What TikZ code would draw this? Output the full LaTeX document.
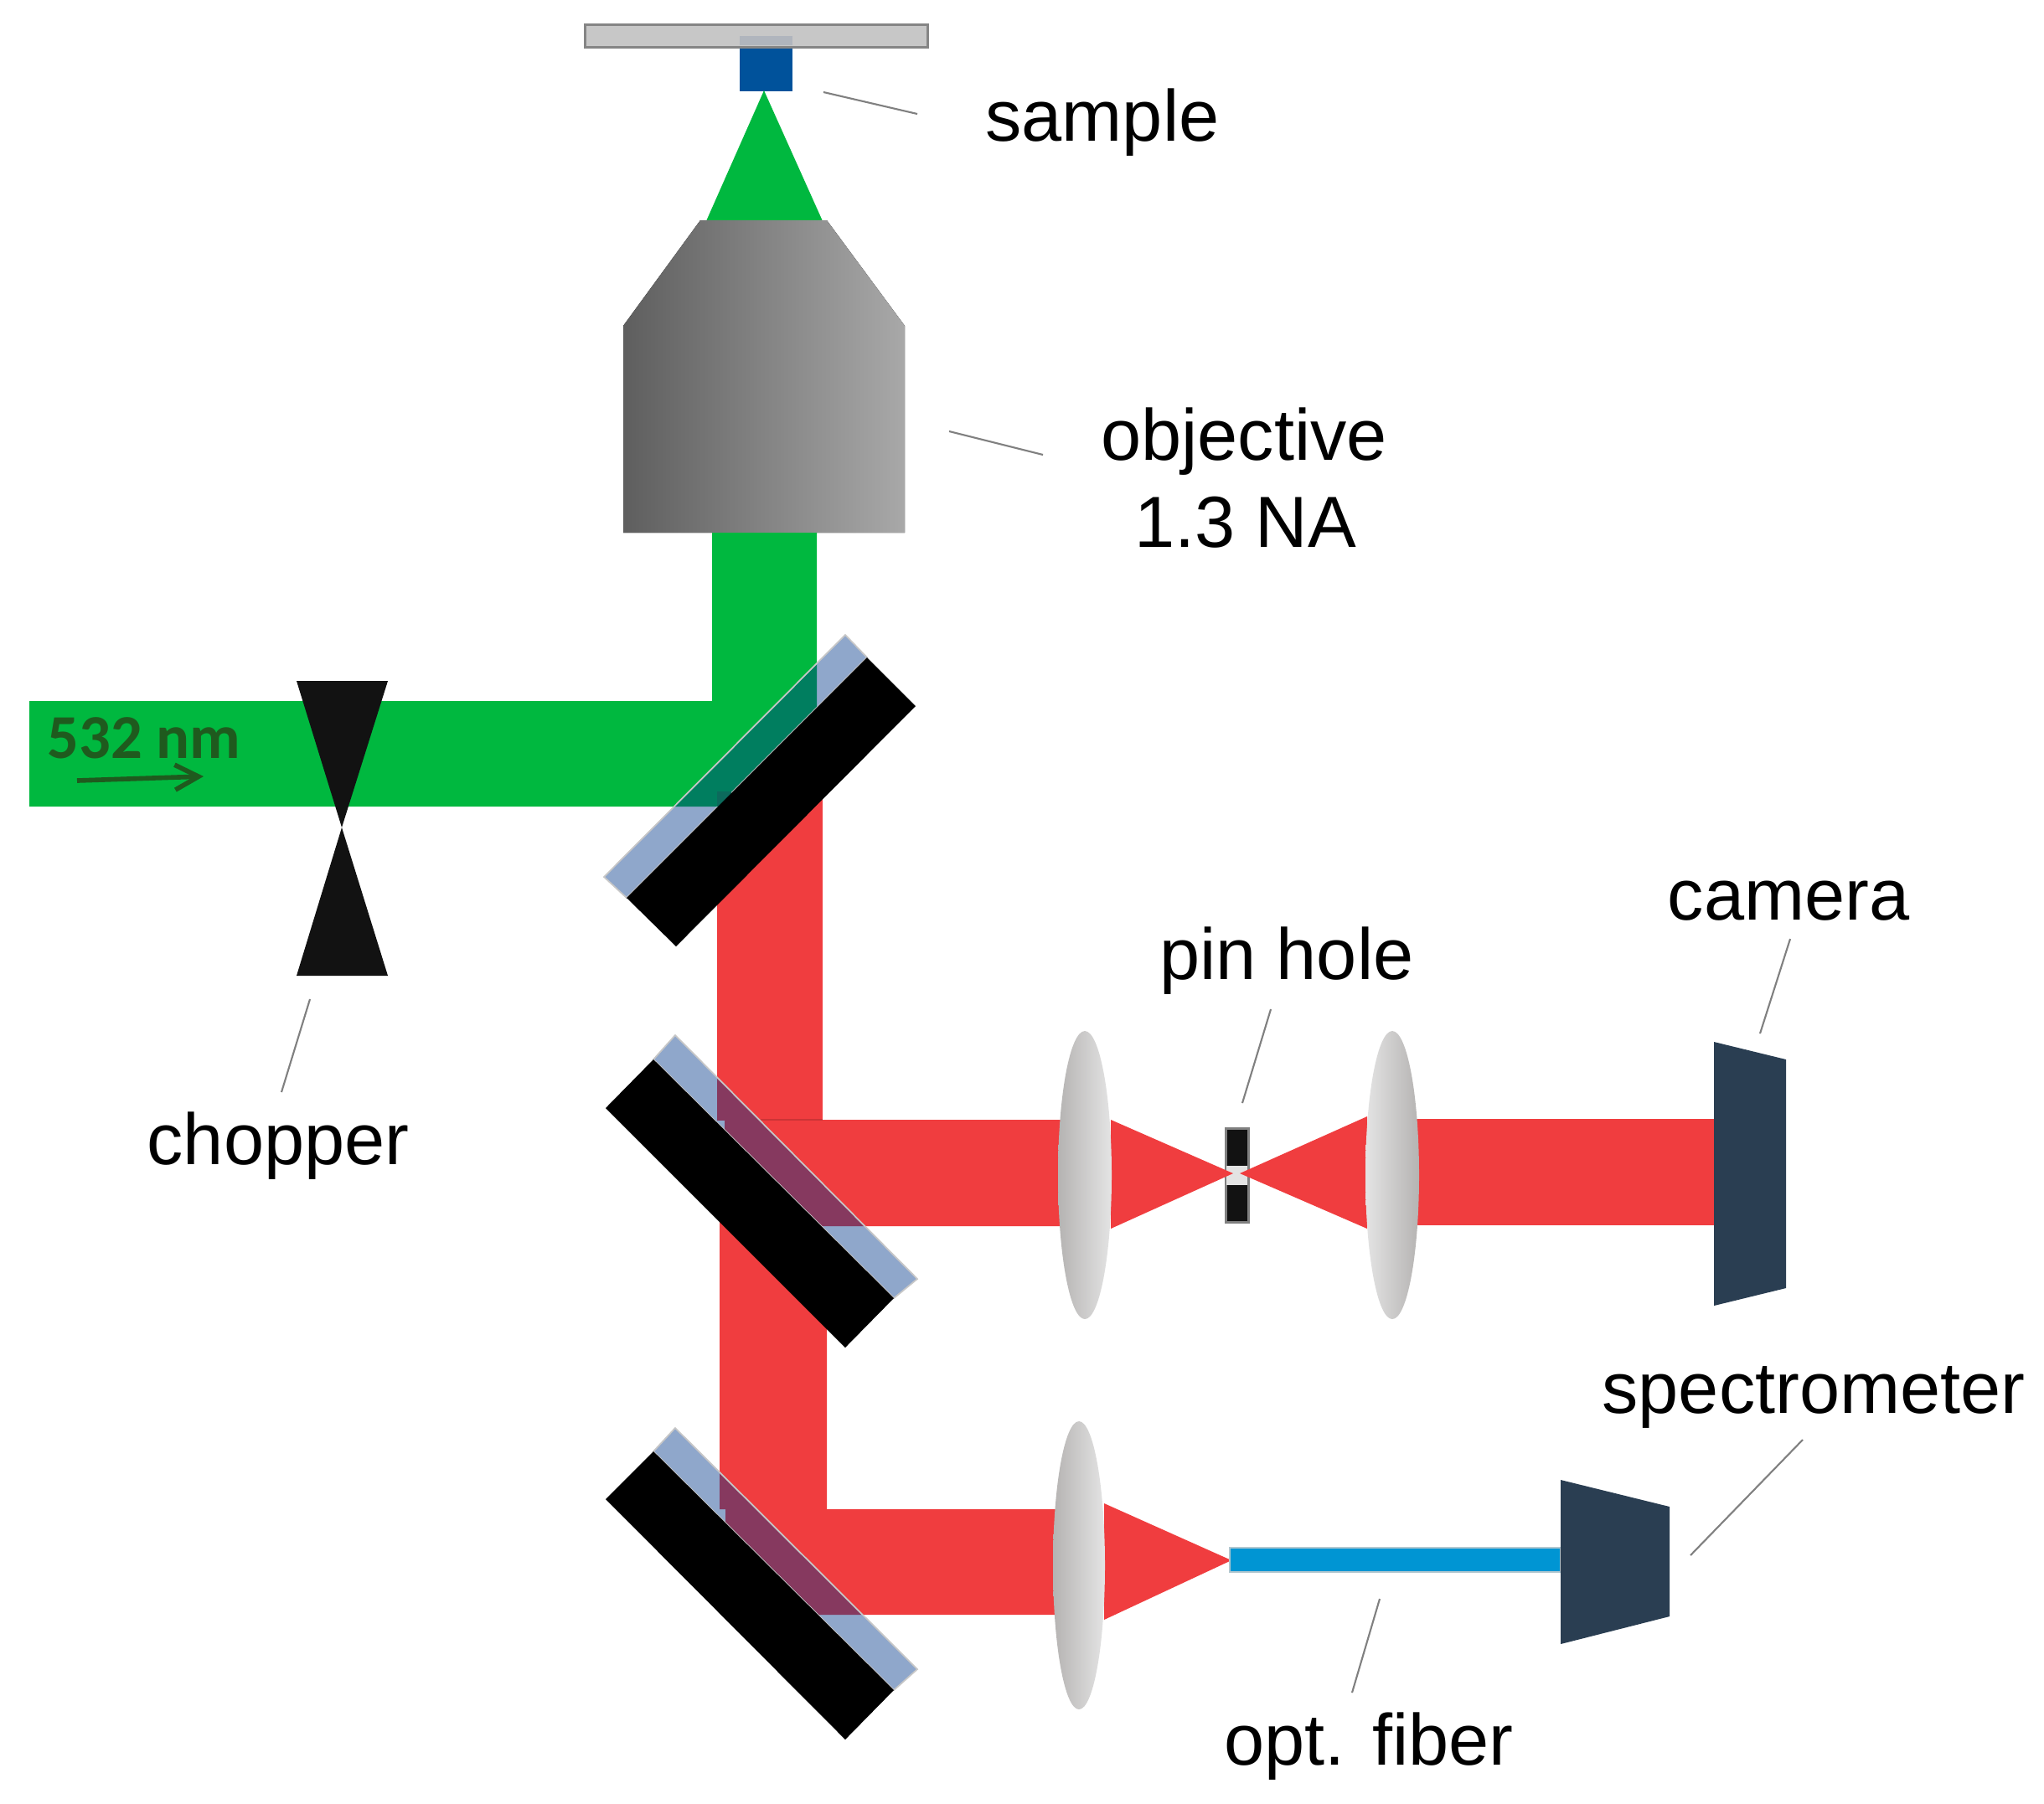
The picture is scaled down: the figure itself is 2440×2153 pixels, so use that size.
\documentclass[tikz,border=0pt]{standalone}
\usepackage{fontspec}
\usetikzlibrary{arrows.meta}
\setmainfont{Liberation Sans}
\newfontfamily\beamfont{Carlito}

\definecolor{beamgreen}{HTML}{00B83F}
\definecolor{beamred}{HTML}{F03D3F}
\definecolor{glassblue}{RGB}{0,54,137}
\definecolor{housing}{HTML}{2A3E52}
\definecolor{fiberblue}{HTML}{0095D3}
\definecolor{samplefill}{HTML}{00529B}
\definecolor{sampleshade}{HTML}{B0B5BD}
\definecolor{lensdark}{HTML}{B5B3B2}
\definecolor{lenslight}{HTML}{E4E4E4}
\definecolor{beamtext}{HTML}{1F5A1E}
\definecolor{overlap}{HTML}{0C6A5C}

\tikzset{
  textlabel/.style={anchor=base,inner sep=0pt,font=\fontsize{24.6}{29}\selectfont},
  leader/.style={draw=black!50,line width=0.6pt},
  redbeam/.style={fill=beamred},
  glass/.style={fill=glassblue,fill opacity=0.44,draw=black!22,line width=0.5pt},
  lens/.style={draw=none},
}

\begin{document}
\begin{tikzpicture}[x=0.01cm,y=-0.01cm]

  \useasboundingbox (0,0) rectangle (2440,2153);

  \def\glassA{(1009,758) -- (1035,785) -- (748,1072) -- (721,1047) -- cycle}
  \def\backA{(1035,785) -- (1093,843) -- (807,1130) -- (748,1072) -- cycle}
  \def\glassB{(806,1236) -- (1095,1527) -- (1067,1550) -- (780,1265) -- cycle}
  \def\backB{(780,1265) -- (1067,1550) -- (1009,1609) -- (723,1323) -- cycle}
  \def\glassC{(806,1705) -- (1095,1993) -- (1067,2018) -- (780,1733) -- cycle}
  \def\backC{(780,1733) -- (1067,2018) -- (1009,2077) -- (723,1790) -- cycle}

  \begin{scope}
      \fill[samplefill] (883,43) rectangle (946,109);
      \fill[black!22,draw=black!48,line width=0.85pt] (698,29) rectangle (1107,56);
      \fill[sampleshade] (883,43) rectangle (946,54);

      \fill[beamgreen] (912,108) -- (982,264) -- (843,264) -- cycle;
      \fill[left color=black!63,right color=black!34] (836,263) -- (987,263) -- (1080,389)
        -- (1080,636) -- (744,636) -- (744,389) -- cycle;
  \end{scope}

  \begin{scope}
      \fill[redbeam] (856,945) rectangle (982,1338);
      \fill[redbeam] (865,1350) -- (865,1337) -- (1295,1337) -- (1295,1464) -- (965,1464) -- cycle;
      \fill[redbeam] (859,1400) -- (987,1520) -- (987,1802) -- (1288,1802) -- (1288,1928)
        -- (960,1928) -- (866,1830) -- (866,1802) -- (859,1802) -- cycle;
      \fill[redbeam] (1662,1336) rectangle (2060,1463);
      \draw[beamred!85!black,line width=0.4pt] (908,1337) -- (982,1337);

      \fill[beamgreen] (35,837) -- (850,837) -- (850,636) -- (975,636) -- (975,900)
        -- (865,963) -- (35,963) -- cycle;

      \filldraw[glass] \glassA;
      \filldraw[glass] \glassB;
      \filldraw[glass] \glassC;
      \fill[overlap] (856,945) rectangle (873,963);

      \fill[black] \backA;
      \fill[black] \backB;
      \fill[black] \backC;
  \end{scope}

  \fill[black!93,draw=black!50,line width=0.85pt] (1463,1347) rectangle (1490,1459);
  \fill[black!11] (1464,1392) rectangle (1489,1415);
  \fill[redbeam] (1326,1337) -- (1472,1401) -- (1326,1467) -- cycle;
  \fill[redbeam] (1632,1333) -- (1480,1401) -- (1632,1467) -- cycle;
  \fill[redbeam] (1318,1795) -- (1470,1863) -- (1318,1934) -- cycle;

  \shade[lens,left color=lensdark,right color=lenslight] (1295,1403) ellipse (32 and 172);
  \shade[lens,left color=lenslight,right color=lensdark] (1662,1403) ellipse (32 and 172);
  \shade[lens,left color=lensdark,right color=lenslight] (1288,1869) ellipse (31 and 172);

  \fill[fiberblue,draw=fiberblue!45!black!30!white,line width=0.6pt] (1468,1848) rectangle (1863,1877);

  \fill[housing] (2046,1244) -- (2132,1265) -- (2132,1538) -- (2046,1559) -- cycle;
  \fill[housing] (1863,1767) -- (1993,1799) -- (1993,1930) -- (1863,1963) -- cycle;

  \fill[black!93] (354,813) -- (463,813) -- (408,988) -- (463,1165) -- (354,1165) -- (408,988) -- cycle;

  \node[textlabel,font=\beamfont\bfseries\fontsize{21.2}{25}\selectfont,text=beamtext] (beamlabel) at (172,905) {532 nm};
  \coordinate (beamtail) at (92,932);
  \coordinate (beamhead) at (243,927);
  \draw[-{Straight Barb[length=8pt,width=8.5pt]},draw=beamtext,line width=1.6pt] (beamtail) -- (beamhead);

  \node[textlabel] (samplelabel) at (1316,168) {sample};
  \node[textlabel] (objectivelabel) at (1485,549) {objective};
  \node[textlabel] (nalabel) at (1487,653) {1.3 NA};
  \node[textlabel] (chopperlabel) at (332,1390) {chopper};
  \node[textlabel] (pinholelabel) at (1536,1169) {pin hole};
  \node[textlabel] (cameralabel) at (2135,1098) {camera};
  \node[textlabel] (spectrolabel) at (2165,1687) {spectrometer};
  \node[textlabel] (fiberlabel) at (1634,2107) {opt. fiber};

  \coordinate (sampleA) at (983,110);
  \coordinate (sampleB) at (1095,136);
  \coordinate (objectiveA) at (1133,515);
  \coordinate (objectiveB) at (1245,543);
  \coordinate (chopperA) at (370,1193);
  \coordinate (chopperB) at (336,1304);
  \coordinate (pinholeA) at (1483,1317);
  \coordinate (pinholeB) at (1517,1205);
  \coordinate (cameraA) at (2101,1234);
  \coordinate (cameraB) at (2137,1121);
  \coordinate (spectroA) at (2018,1857);
  \coordinate (spectroB) at (2152,1719);
  \coordinate (fiberA) at (1647,1909);
  \coordinate (fiberB) at (1614,2021);

  \draw[leader] (sampleA) -- (sampleB);
  \draw[leader] (objectiveA) -- (objectiveB);
  \draw[leader] (chopperA) -- (chopperB);
  \draw[leader] (pinholeA) -- (pinholeB);
  \draw[leader] (cameraA) -- (cameraB);
  \draw[leader] (spectroA) -- (spectroB);
  \draw[leader] (fiberA) -- (fiberB);

\end{tikzpicture}
\end{document}
